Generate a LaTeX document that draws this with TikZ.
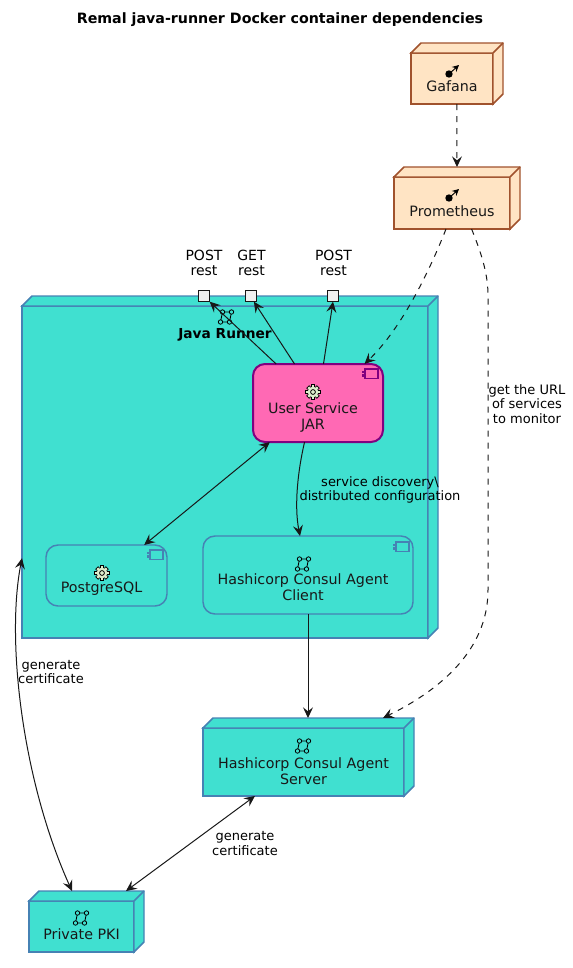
\documentclass[tikz,border=0pt]{standalone}
\usepackage{fontspec}
\setmainfont{DejaVu Sans}
\usetikzlibrary{arrows.meta,calc}

\definecolor{tealfill}{HTML}{40E0D0}
\definecolor{tealline}{HTML}{4682B4}
\definecolor{sandfill}{HTML}{FFE4C4}
\definecolor{sandline}{HTML}{A0522D}
\definecolor{pinkfill}{HTML}{FF69B4}
\definecolor{pinkline}{HTML}{800080}
\definecolor{gearfill}{HTML}{DDEECC}
\definecolor{inkline}{HTML}{181818}

\newcommand{\pxu}{0.75pt}
\newcommand{\iconspace}[1]{\rule{0pt}{#1}}
\newcommand{\leftpad}{\rule{7.5pt}{0pt}}

\tikzset{
    teal node/.style={rectangle, draw=tealline, fill=tealfill, line width=1.1pt, outer sep=0pt, align=center, font=\fontsize{10.7}{12}\selectfont, text=inkline},
    sand node/.style={rectangle, draw=sandline, fill=sandfill, line width=1.1pt, outer sep=0pt, align=center, font=\fontsize{10.7}{12}\selectfont, text=inkline},
    comp node/.style={teal node, rounded corners=9pt},
    user node/.style={rectangle, rounded corners=9pt, draw=pinkline, fill=pinkfill, line width=1.5pt, outer sep=0pt, align=center, font=\fontsize{10.7}{12}\selectfont, text=inkline},
    port node/.style={rectangle, draw=inkline, fill=black!6, line width=0.8pt, outer sep=0pt, minimum size=8.5pt, inner sep=0pt},
    link/.style={->, inkline, line width=0.75pt},
    dashlink/.style={link, dash pattern=on 4.5pt off 4.5pt},
    portlabel/.style={align=center, font=\fontsize{10.5}{11.6}\selectfont, text=black},
    edgelabel/.style={align=center, font=\fontsize{9.75}{10.9}\selectfont, text=black},
    pics/gearicon/.style={code={
        \foreach \a in {0,45,90,135} \draw[black, fill=gearfill, line width=0.5pt, rotate=\a] (-1.7,-7.2) rectangle (1.7,7.2);
        \fill[gearfill] (0,0) circle (5.4);
        \draw[black, line width=0.6pt] (0,0) circle (2.4);
    }},
    pics/linkicon/.style={code={
        \draw[black, line width=0.6pt] (-3.5,-5) -- (5.5,-5) -- (3.5,5) -- (-5.5,5) -- cycle;
        \foreach \p in {(-3.5,-5),(5.5,-5),(3.5,5),(-5.5,5)} \draw[black, fill=tealfill, line width=0.6pt] \p circle (2.2);
    }},
    pics/arrowicon/.style={code={
        \fill[black] (-3,3) circle (3.7);
        \draw[black, line width=0.7pt, -{Stealth[length=5pt,width=5pt]}] (-3,3) -- (7,-6);
    }},
    pics/compicon/.style={code={
        \draw[line width=1.1pt] (-13,0) rectangle (0,9.5);
        \fill (-16,1.5) rectangle (-12,4.2);
        \fill (-16,5.3) rectangle (-12,8);
    }},
}

% back faces of a box, drawn from the node's corners
\newcommand{\boxsides}[2]{
    \draw[#2] (#1.north west) -- ++(10,-10) -- ($(#1.north east)+(10,-10)$)
        -- ($(#1.south east)+(10,-10)$) -- (#1.south east) -- (#1.north east) -- cycle;
    \draw[#2, fill=none] (#1.north east) -- ++(10,-10);
}

\begin{document}
\begin{tikzpicture}[>={Stealth[length=8pt,width=7.5pt,inset=3pt]}, x=\pxu, y=-\pxu]
    \useasboundingbox (0,0) rectangle (572,968);

    \node[font=\bfseries\fontsize{10.67}{12}\selectfont] (title) at (280,19.5) {Remal java-runner Docker container dependencies};

    % Nodes
    \node[sand node, minimum width=82*\pxu, minimum height=51*\pxu] (gafana) at (452,78.5) {\iconspace{8pt}\\Gafana};
    \boxsides{gafana}{sand node}
    \node[sand node, minimum width=116*\pxu, minimum height=52*\pxu] (prometheus) at (452,203) {\iconspace{8pt}\\Prometheus};
    \boxsides{prometheus}{sand node}

    \node[teal node, minimum width=406*\pxu, minimum height=332*\pxu] (runner) at (225,472) {};
    \boxsides{runner}{teal node}
    \node[font=\bfseries\fontsize{10.3}{12}\selectfont, text=black] (runnerlabel) at (225,334.5) {Java Runner};

    \node[port node] (porta) at (204,296) {};
    \node[port node] (portb) at (251,296) {};
    \node[port node] (portc) at (333,296) {};
    \node[portlabel] (portalabel) at (204,263) {POST\\rest};
    \node[portlabel] (portblabel) at (251.5,263) {GET\\rest};
    \node[portlabel] (portclabel) at (333.5,263) {POST\\rest};

    \node[user node, minimum width=130*\pxu, minimum height=78*\pxu] (userservice) at (318,403) {\iconspace{18pt}\\User Service\leftpad\\JAR\leftpad};
    \node[comp node, minimum width=121*\pxu, minimum height=61*\pxu] (postgres) at (106.5,575.5) {\iconspace{15pt}\\PostgreSQL\leftpad};
    \node[comp node, minimum width=210*\pxu, minimum height=78*\pxu] (client) at (308,575) {\iconspace{15pt}\\Hashicorp Consul Agent\leftpad\\Client\leftpad};

    \node[teal node, minimum width=201*\pxu, minimum height=68*\pxu] (server) at (303.5,762) {\iconspace{9.5pt}\\Hashicorp Consul Agent\\Server};
    \boxsides{server}{teal node}
    \node[teal node, minimum width=105*\pxu, minimum height=51*\pxu] (pki) at (81.5,926.5) {\iconspace{8pt}\\Private PKI};
    \boxsides{pki}{teal node}

    % Icons
    \pic at (452,71) {arrowicon};
    \pic at (452,195) {arrowicon};
    \pic at (226,317) {linkicon};
    \pic at (313,392) {gearicon};
    \pic at (102,573) {gearicon};
    \pic at (303,564) {linkicon};
    \pic at (303,746) {linkicon};
    \pic at (81,918) {linkicon};
    \pic[color=pinkline] at ($(userservice.north east)+(-5,5)$) {compicon};
    \pic[color=tealline] at ($(postgres.north east)+(-4,5)$) {compicon};
    \pic[color=tealline] at ($(client.north east)+(-4,6)$) {compicon};

    % Arrows with text
    \draw[dashlink] (gafana.281) -- ($(prometheus.north)+(5,-10)$);

    \draw[dashlink] (prometheus.257) .. controls (428,275) and (400,330) .. (userservice.40.9);

    \coordinate (urltop) at (488,295);
    \coordinate (urlbottom) at (488,590);
    \draw[dashlink] (prometheus.307.6) .. controls (480,250) and (488,272) .. (urltop) -- (urlbottom)
        .. controls (488,650) and (440,690) .. ($(server.north)+(79.5,-10)$);
    \node[edgelabel] (urllabel) at (527,404) {get the URL\\ of services\\to monitor };

    \draw[link] (userservice.137.1) -- (porta.south east);
    \draw[link] (userservice.121.6) -- (portb.-63);
    \draw[link] (userservice.82.7) -- (portc.south);

    \draw[link, <->] (userservice.219.7) -- (postgres.39.5);

    \draw[link] (userservice.251.6) .. controls (298,470) and (294,505) .. ($(client.north)+(-8,0)$);
    \node[edgelabel] (discoverylabel) at (380,490) {service discovery\textbackslash\\distributed configuration};

    \draw[link] (client.south) -- ($(server.north)+(4.5,-10)$);

    \draw[link, <->] (runner.203.4) .. controls (6,640) and (22,780) .. ($(pki.north)+(-9.5,-10)$);
    \node[edgelabel] (pkilabel) at (51,672) {generate\\certificate};

    \draw[link, <->] (server.215.6) -- ($(pki.north)+(44.5,-10)$);
    \node[edgelabel] (serverlabel) at (245,843.5) {generate\\certificate};
\end{tikzpicture}
\end{document}
